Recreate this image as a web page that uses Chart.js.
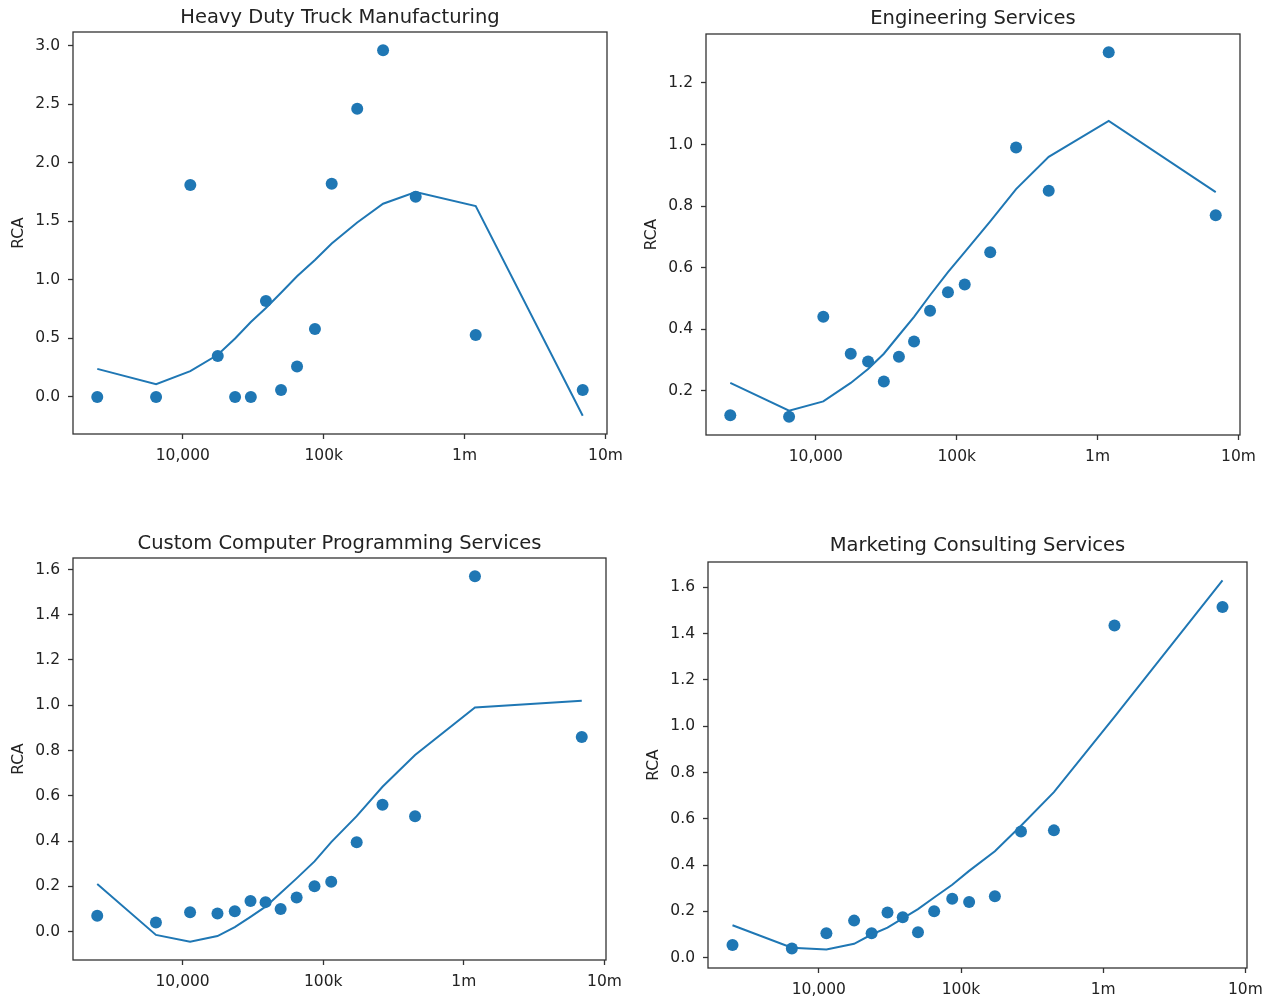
<!DOCTYPE html>
<html>
<head>
<meta charset="utf-8">
<title>RCA by city size</title>
<script src="https://cdn.jsdelivr.net/npm/chart.js@4.4.1/dist/chart.umd.min.js"></script>
<style>
    html, body { margin: 0; padding: 0; background: #fff; }
    body { width: 1268px; height: 997px; position: relative; overflow: hidden; }
    .panel { position: absolute; }
</style>
</head>
<body>
<div class="panel" id="panelTruck"><canvas></canvas></div>
<div class="panel" id="panelEng"><canvas></canvas></div>
<div class="panel" id="panelProg"><canvas></canvas></div>
<div class="panel" id="panelMkt"><canvas></canvas></div>
<script>
// Population size of each city bin (x axis, log scale)
const popMid = [2470, 6460, 11300, 17700, 23500, 30400, 38900, 49800, 64700, 86700, 114000, 173000, 264000, 450000, 1200000, 6900000];

const xTickValues = [1e4, 1e5, 1e6, 1e7];
const xTickLabels = ['10,000', '100k', '1m', '10m'];

// Heavy Duty Truck Manufacturing
const truckRca = [0, 0, 1.81, 0.35, 0, 0, 0.82, 0.06, 0.26, 0.58, 1.82, 2.46, 2.96, 1.71, 0.53, 0.06];
const truckFit = [0.24, 0.11, 0.22, 0.36, 0.50, 0.64, 0.76, 0.89, 1.03, 1.17, 1.31, 1.49, 1.65, 1.75, 1.63, -0.16];
const truckTicks = [0, 0.5, 1.0, 1.5, 2.0, 2.5, 3.0];

// Engineering Services
const engRca = [0.12, 0.115, 0.44, 0.32, 0.295, 0.23, 0.31, 0.36, 0.46, 0.52, 0.545, 0.65, 0.99, 0.85, 1.30, 0.77];
const engFit = [0.225, 0.135, 0.165, 0.225, 0.27, 0.32, 0.38, 0.44, 0.51, 0.585, 0.65, 0.75, 0.855, 0.96, 1.077, 0.845];
const engTicks = [0.2, 0.4, 0.6, 0.8, 1.0, 1.2];

// Custom Computer Programming Services
const progRca = [0.07, 0.04, 0.085, 0.08, 0.09, 0.135, 0.13, 0.10, 0.15, 0.20, 0.22, 0.395, 0.56, 0.51, 1.57, 0.86];
const progFit = [0.21, -0.015, -0.045, -0.02, 0.02, 0.065, 0.11, 0.17, 0.235, 0.31, 0.395, 0.51, 0.64, 0.78, 0.99, 1.02];
const progTicks = [0, 0.2, 0.4, 0.6, 0.8, 1.0, 1.2, 1.4, 1.6];

// Marketing Consulting Services
const mktRca = [0.055, 0.04, 0.105, 0.16, 0.105, 0.195, 0.175, 0.11, 0.20, 0.255, 0.24, 0.265, 0.545, 0.55, 1.435, 1.515];
const mktFit = [0.14, 0.043, 0.035, 0.06, 0.10, 0.13, 0.17, 0.21, 0.26, 0.315, 0.375, 0.46, 0.57, 0.715, 1.04, 1.63];
const mktTicks = [0, 0.2, 0.4, 0.6, 0.8, 1.0, 1.2, 1.4, 1.6];

const BLUE = '#1f77b4';
const INK = '#222';
const FONT = 'DejaVu Sans';
const LEFT_M = 73, TOP_M = 32, RIGHT_M = 40, BOTTOM_M = 50;

// axes frame on all four sides (matplotlib spines) plus a title centred over the axes
const framePlugin = {
    id: 'frame',
    afterDraw(chart, args, opts) {
        const { ctx, chartArea: a } = chart;
        ctx.save();
        ctx.strokeStyle = '#333';
        ctx.lineWidth = 1.3;
        ctx.strokeRect(a.left, a.top, a.right - a.left, a.bottom - a.top);
        ctx.fillStyle = INK;
        ctx.font = '19.5px "' + FONT + '"';
        ctx.textAlign = 'center';
        ctx.textBaseline = 'middle';
        ctx.fillText(opts.text, (a.left + a.right) / 2, a.top - opts.gap);
        ctx.restore();
    }
};

// 5% margin around the data, as matplotlib does by default
function padRange(lo, hi) {
    const m = (hi - lo) * 0.05;
    return [lo - m, hi + m];
}

function makePanel(id, box, title, rca, fit, yTicks, titleGap) {
    const [bl, bt, br, bb] = box;
    const el = document.getElementById(id);
    el.style.left = (bl - LEFT_M) + 'px';
    el.style.top = (bt - TOP_M) + 'px';
    el.style.width = (br - bl + LEFT_M + RIGHT_M) + 'px';
    el.style.height = (bb - bt + TOP_M + BOTTOM_M) + 'px';

    const logs = popMid.map(v => Math.log10(v));
    const [lx0, lx1] = padRange(Math.min(...logs), Math.max(...logs));
    const all = rca.concat(fit);
    const [y0, y1] = padRange(Math.min(...all), Math.max(...all));

    new Chart(el.querySelector('canvas'), {
        type: 'scatter',
        data: {
            datasets: [
                {
                    data: popMid.map((x, i) => ({ x: x, y: fit[i] })),
                    showLine: true,
                    borderColor: BLUE,
                    borderWidth: 2,
                    pointRadius: 0,
                    tension: 0,
                    order: 1
                },
                {
                    data: popMid.map((x, i) => ({ x: x, y: rca[i] })),
                    backgroundColor: BLUE,
                    borderWidth: 0,
                    pointRadius: 6,
                    order: 2
                }
            ]
        },
        options: {
            responsive: true,
            maintainAspectRatio: false,
            animation: false,
            events: [],
            layout: { autoPadding: false, padding: { left: 0, right: RIGHT_M, top: TOP_M, bottom: 0 } },
            plugins: {
                legend: { display: false },
                tooltip: { enabled: false },
                title: { display: false },
                frame: { text: title, gap: titleGap }
            },
            scales: {
                x: {
                    type: 'logarithmic',
                    min: Math.pow(10, lx0),
                    max: Math.pow(10, lx1),
                    border: { display: false },
                    grid: { drawOnChartArea: false, tickLength: 5, tickColor: '#333', tickWidth: 1.3 },
                    ticks: {
                        color: INK,
                        padding: 8,
                        maxRotation: 0,
                        font: { family: FONT, size: 15.5 },
                        callback: (v, i) => xTickLabels[i]
                    },
                    afterBuildTicks: s => { s.ticks = xTickValues.map(v => ({ value: v })); },
                    afterFit: s => { s.height = BOTTOM_M; }
                },
                y: {
                    min: y0,
                    max: y1,
                    border: { display: false },
                    grid: { drawOnChartArea: false, tickLength: 5, tickColor: '#333', tickWidth: 1.3 },
                    ticks: {
                        color: INK,
                        padding: 8,
                        font: { family: FONT, size: 15.5 },
                        callback: v => Number(v).toFixed(1)
                    },
                    title: {
                        display: true,
                        text: 'RCA',
                        color: INK,
                        font: { family: FONT, size: 15.5 },
                        padding: { top: 10, bottom: 0 }
                    },
                    afterBuildTicks: s => { s.ticks = yTicks.map(v => ({ value: v })); },
                    afterFit: s => { s.width = LEFT_M; }
                }
            }
        },
        plugins: [framePlugin]
    });
}

makePanel('panelTruck', [73, 32, 607, 434], 'Heavy Duty Truck Manufacturing', truckRca, truckFit, truckTicks, 14);
makePanel('panelEng', [706, 34, 1240, 435], 'Engineering Services', engRca, engFit, engTicks, 15);
makePanel('panelProg', [73, 558, 606, 960], 'Custom Computer Programming Services', progRca, progFit, progTicks, 14);
makePanel('panelMkt', [708, 562, 1247, 968], 'Marketing Consulting Services', mktRca, mktFit, mktTicks, 16);
</script>
</body>
</html>
